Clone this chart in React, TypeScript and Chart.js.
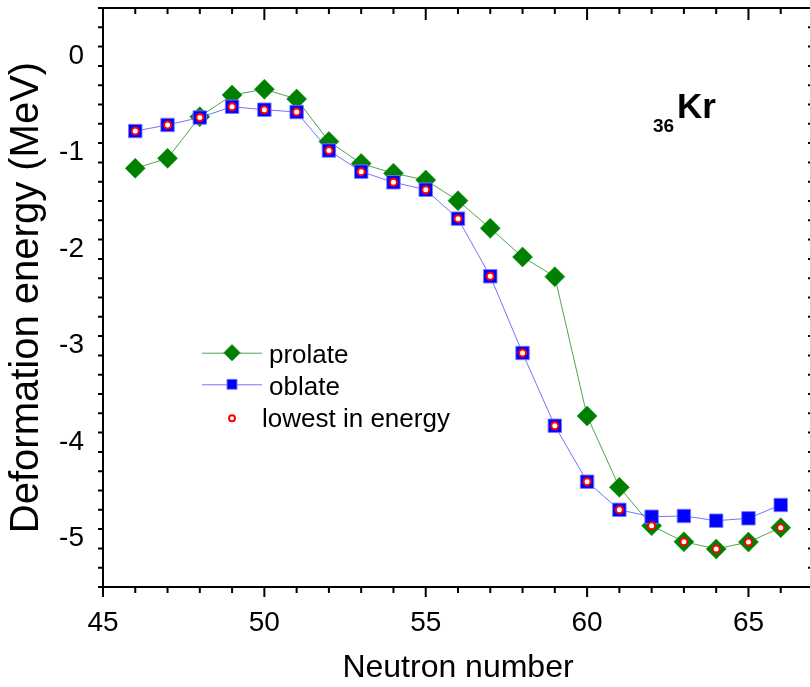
import React, { useEffect, useRef } from "react";
import { Chart, registerables } from "chart.js";

Chart.register(...registerables);

// ---- data ----
const neutronNumbers = [46, 47, 48, 49, 50, 51, 52, 53, 54, 55, 56, 57, 58, 59, 60, 61, 62, 63, 64, 65, 66];
const prolate = [-1.161, -1.058, -0.626, -0.402, -0.342, -0.443, -0.883, -1.112, -1.213, -1.282, -1.497, -1.783, -2.08, -2.284, -3.728, -4.467, -4.865, -5.031, -5.106, -5.034, -4.885];
const oblate = [-0.775, -0.712, -0.635, -0.523, -0.554, -0.578, -0.977, -1.196, -1.306, -1.383, -1.683, -2.28, -3.075, -3.829, -4.409, -4.7, -4.772, -4.764, -4.813, -4.788, -4.65];
const lowest = [-0.775, -0.712, -0.635, -0.523, -0.554, -0.578, -0.977, -1.196, -1.306, -1.383, -1.683, -2.28, -3.075, -3.829, -4.409, -4.7, -4.865, -5.031, -5.106, -5.034, -4.885];

const xTickValues = [45, 50, 55, 60, 65];
const yTickValues = [0, -1, -2, -3, -4, -5];
const seriesLabels = ["prolate", "oblate", "lowest in energy"];

const X_MIN = 45, X_MAX = 67, X_MINOR = 1, X_MAJOR = 5;
const Y_MIN = -5.5, Y_MAX = 0.5, Y_MINOR = 0.2, Y_MAJOR = 1;

const FONT = '"Liberation Sans", Arial, sans-serif';

const GREEN = "#008000";
const BLUE = "#0000ff";
const RED = "#ff0000";

const framePlugin = {
  id: "frame",
  afterDraw(chart: any) {
    const ctx = chart.ctx as CanvasRenderingContext2D;
    const { left, right, top, bottom } = chart.chartArea;
    const xs = chart.scales.x;
    const ys = chart.scales.y;
    ctx.save();
    ctx.strokeStyle = "#000";
    ctx.lineWidth = 2;
    ctx.beginPath();
    ctx.rect(left, top, right - left, bottom - top);
    ctx.stroke();
    ctx.beginPath();
    const nx = Math.round((X_MAX - X_MIN) / X_MINOR);
    for (let i = 0; i <= nx; i++) {
      const v = X_MIN + i * X_MINOR;
      const px = xs.getPixelForValue(v);
      const major = Math.abs(v / X_MAJOR - Math.round(v / X_MAJOR)) < 1e-6;
      ctx.moveTo(px, bottom);
      ctx.lineTo(px, bottom + (major ? 10 : 6));
      ctx.moveTo(px, top);
      ctx.lineTo(px, top + (major ? 12 : 6));
    }
    const ny = Math.round((Y_MAX - Y_MIN) / Y_MINOR);
    for (let i = 0; i <= ny; i++) {
      const v = Y_MIN + i * Y_MINOR;
      const py = ys.getPixelForValue(v);
      const major = Math.abs(v / Y_MAJOR - Math.round(v / Y_MAJOR)) < 1e-6;
      ctx.moveTo(left, py);
      ctx.lineTo(left - (major ? 11 : 5), py);
      ctx.moveTo(right, py);
      ctx.lineTo(right - (major ? 10 : 5), py);
    }
    ctx.stroke();

    // element label
    ctx.fillStyle = "#000";
    ctx.textBaseline = "alphabetic";
    ctx.textAlign = "left";
    ctx.font = `bold 19px ${FONT}`;
    ctx.fillText("36", 653, 132);
    ctx.font = `bold 35px ${FONT}`;
    ctx.fillText("Kr", 677, 118);

    // legend
    const ds = chart.data.datasets;
    const rows = [352.7, 384.3, 418.3];
    const baselines = [363, 394.5, 427];
    const textX = [269, 269, 262];
    const lineX0 = 202, lineX1 = 262, markerX = 232;
    ctx.font = `26px ${FONT}`;
    for (let i = 0; i < 3; i++) {
      const d = ds[i];
      if (d.showLine !== false) {
        ctx.strokeStyle = d.borderColor;
        ctx.lineWidth = 1;
        ctx.beginPath();
        ctx.moveTo(lineX0, rows[i] + 0.5);
        ctx.lineTo(lineX1, rows[i] + 0.5);
        ctx.stroke();
      }
      const r = i === 0 ? 8 : i === 1 ? 7 : 3;
      ctx.fillStyle = d.pointBackgroundColor;
      ctx.strokeStyle = d.pointBorderColor;
      ctx.lineWidth = i === 2 ? 2 : 1;
      ctx.beginPath();
      if (i === 0) {
        ctx.moveTo(markerX, rows[i] - r);
        ctx.lineTo(markerX + r, rows[i]);
        ctx.lineTo(markerX, rows[i] + r);
        ctx.lineTo(markerX - r, rows[i]);
        ctx.closePath();
      } else if (i === 1) {
        ctx.rect(markerX - 5, rows[i] - 5, 10, 10);
      } else {
        ctx.arc(markerX, rows[i], r, 0, Math.PI * 2);
      }
      ctx.fill();
      ctx.stroke();
      ctx.fillStyle = "#000";
      ctx.fillText(seriesLabels[i], textX[i], baselines[i]);
    }
    ctx.restore();
  },
};

export default function App() {
  const ref = useRef<HTMLCanvasElement | null>(null);
  useEffect(() => {
    const canvas = ref.current;
    if (!canvas) return;
    const toXY = (arr: number[]) => neutronNumbers.map((n, i) => ({ x: n, y: arr[i] }));
    const chart = new Chart(canvas, {
      type: "line",
      data: {
        datasets: [
          {
            label: seriesLabels[0],
            data: toXY(prolate),
            borderColor: "rgba(0,128,0,0.7)",
            borderWidth: 1,
            pointStyle: "rectRot",
            pointRadius: 10,
            pointBackgroundColor: GREEN,
            pointBorderColor: GREEN,
            pointBorderWidth: 0.5,
            order: 3,
          },
          {
            label: seriesLabels[1],
            data: toXY(oblate),
            borderColor: "rgba(40,40,255,0.65)",
            borderWidth: 1,
            pointStyle: "rect",
            pointRadius: 9.5,
            pointBackgroundColor: BLUE,
            pointBorderColor: "rgba(120,120,255,0.9)",
            pointBorderWidth: 1,
            order: 2,
          },
          {
            label: seriesLabels[2],
            data: toXY(lowest),
            showLine: false,
            pointStyle: "circle",
            pointRadius: 3.5,
            pointBackgroundColor: "#ffffff",
            pointBorderColor: RED,
            pointBorderWidth: 2,
            order: 1,
          },
        ] as any,
      },
      options: {
        animation: false,
        responsive: false,
        devicePixelRatio: 1,
        layout: { autoPadding: false, padding: { top: 8, left: 0, right: 0, bottom: 0 } },
        plugins: { legend: { display: false }, tooltip: { enabled: false } },
        elements: { line: { tension: 0 } },
        scales: {
          x: {
            type: "linear",
            min: X_MIN,
            max: X_MAX,
            grid: { display: false, drawTicks: false },
            border: { display: false },
            afterBuildTicks: (s: any) => {
              s.ticks = xTickValues.map((v) => ({ value: v }));
            },
            afterFit: (s: any) => {
              s.height = 100;
              s.paddingLeft = 0;
              s.paddingRight = 0;
            },
            ticks: {
              padding: 19,
              color: "#000",
              font: { family: FONT, size: 28 },
              maxRotation: 0,
              autoSkip: false,
            },
            title: {
              display: true,
              text: "Neutron number",
              color: "#000",
              font: { family: FONT, size: 32 },
              padding: { top: 0, bottom: 0 },
            },
          },
          y: {
            type: "linear",
            min: Y_MIN,
            max: Y_MAX,
            grid: { display: false, drawTicks: false },
            border: { display: false },
            afterBuildTicks: (s: any) => {
              s.ticks = yTickValues.map((v) => ({ value: v }));
            },
            afterFit: (s: any) => {
              s.width = 103;
              s.paddingTop = 0;
              s.paddingBottom = 0;
            },
            ticks: {
              padding: 19,
              color: "#000",
              font: { family: FONT, size: 28 },
              autoSkip: false,
            },
            title: {
              display: true,
              text: "Deformation energy (MeV)",
              color: "#000",
              font: { family: FONT, size: 40 },
              padding: { top: 3, bottom: 0 },
            },
          },
        },
      },
      plugins: [framePlugin],
    });
    return () => chart.destroy();
  }, []);
  return (
    <div style={{ position: "fixed", left: 0, top: 0, width: 810, height: 687, overflow: "hidden", background: "#fff" }}>
      <canvas ref={ref} width={813} height={687} style={{ display: "block", width: 813, height: 687 }} />
    </div>
  );
}
